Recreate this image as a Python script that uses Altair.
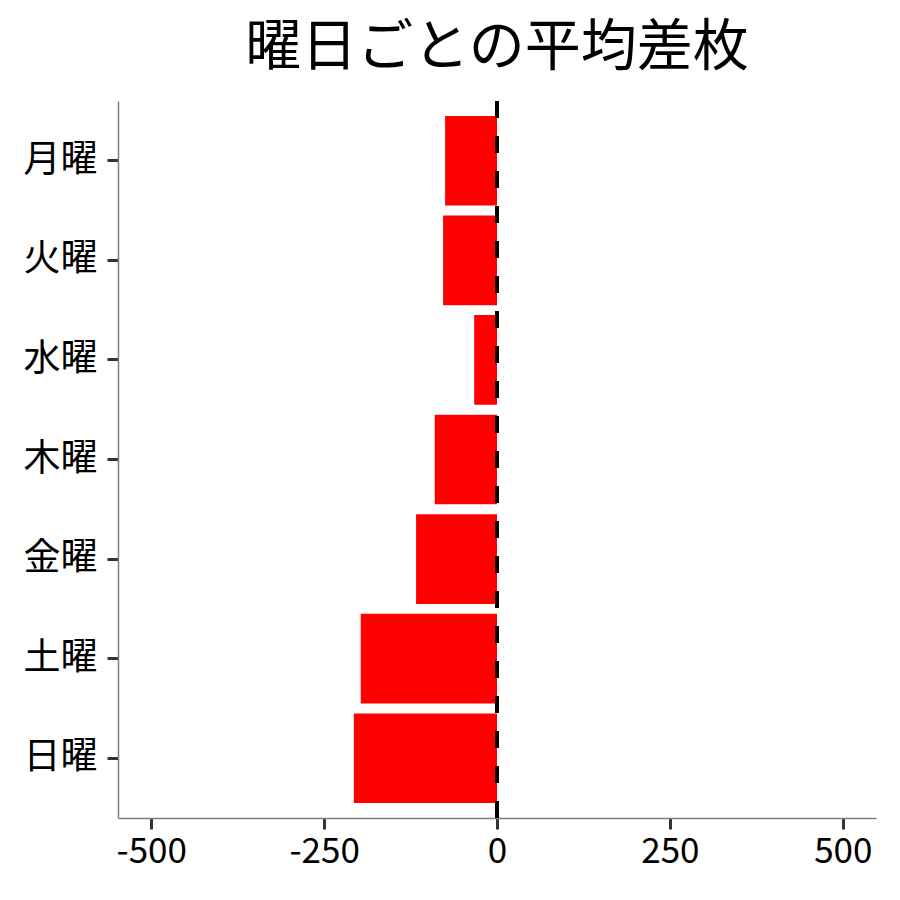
import altair as alt
import pandas as pd

days = ["月曜", "火曜", "水曜", "木曜", "金曜", "土曜", "日曜"]
values = [-75, -78, -33, -90, -117, -197, -207]
x_ticks = [-500, -250, 0, 250, 500]

df = pd.DataFrame({"day": days, "value": values})
zero = pd.DataFrame({"x": [0]})

FONT = "Noto Sans CJK JP"
W, H = 758, 717

bars = alt.Chart(df).mark_bar(color="#FF0000").encode(
    x=alt.X("value:Q",
            scale=alt.Scale(domain=[-548, 548], nice=False, zero=False),
            axis=alt.Axis(values=x_ticks, title=None, grid=False,
                          labelExpr="toString(datum.value)",
                          domainColor="#808080", domainWidth=1.5,
                          tickColor="#333333", tickWidth=3, tickSize=11,
                          labelFont=FONT, labelFontSize=35, labelColor="#000000",
                          labelPadding=5, labelFlush=False)),
    y=alt.Y("day:N", sort=days,
            scale=alt.Scale(paddingInner=0.1, paddingOuter=0.15),
            axis=alt.Axis(title=None, grid=False,
                          domainColor="#808080", domainWidth=1.5,
                          tickColor="#333333", tickWidth=3, tickSize=11,
                          labelFont=FONT, labelFontSize=37, labelColor="#000000",
                          labelPadding=10)),
)

rule = alt.Chart(zero).mark_rule(color="#000000", strokeWidth=4, strokeDash=[17, 18]).encode(
    x=alt.X("x:Q"),
    y=alt.value(H),
    y2=alt.value(0),
)

chart = alt.layer(bars, rule).properties(
    width=W,
    height=H,
    background="white",
    title=alt.TitleParams("曜日ごとの平均差枚", font=FONT, fontSize=56,
                          fontWeight="normal", color="#000000",
                          anchor="middle", offset=22),
    padding={"left": 110, "top": 93, "right": 16, "bottom": 80},
    autosize=alt.AutoSizeParams(type="none"),
).configure_view(stroke=None, strokeWidth=0)

chart.save("out.html", embed_options={"renderer": "svg", "actions": False})
